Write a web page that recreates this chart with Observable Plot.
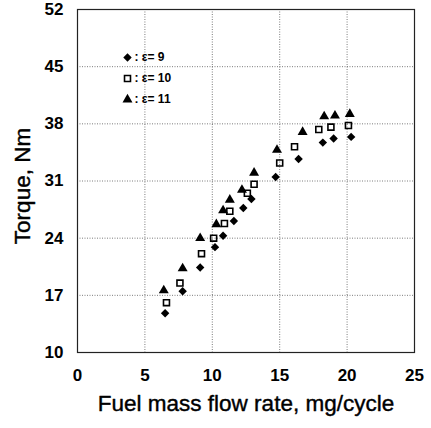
<!DOCTYPE html>
<html>
<head>
<meta charset="utf-8">
<script src="https://cdn.jsdelivr.net/npm/d3@7"></script>
<script src="https://cdn.jsdelivr.net/npm/@observablehq/plot@0.6"></script>
<style>
  html, body { margin: 0; padding: 0; background: #fff; }
  #chart svg { display: block; }
</style>
</head>
<body>
<div id="chart"></div>
<script>
// ε = 9 (filled diamonds)
const fuel9   = [6.5, 7.8, 9.1, 10.2, 10.8, 11.6, 12.3, 12.9, 14.7, 16.4, 18.2, 19.0, 20.3];
const torque9 = [14.8, 17.5, 20.4, 22.9, 24.3, 26.1, 27.7, 28.8, 31.5, 33.7, 35.7, 36.2, 36.4];
// ε = 10 (open squares)
const fuel10   = [6.6, 7.6, 9.2, 10.1, 10.9, 11.3, 12.6, 13.1, 15.0, 16.1, 17.9, 18.8, 20.1];
const torque10 = [16.1, 18.5, 22.1, 24.0, 25.8, 27.3, 29.5, 30.6, 33.2, 35.2, 37.3, 37.6, 37.8];
// ε = 11 (filled triangles)
const fuel11   = [6.4, 7.8, 9.1, 10.3, 10.8, 11.3, 12.2, 13.1, 14.8, 16.7, 18.3, 19.1, 20.2];
const torque11 = [17.6, 20.3, 24.0, 25.7, 27.4, 28.7, 29.9, 32.0, 34.8, 37.0, 38.9, 39.0, 39.2];

const xTicks = [0, 5, 10, 15, 20, 25];
const yTicks = [10, 17, 24, 31, 38, 45, 52];
const legendLabels = [": ε= 9", ": ε= 10", ": ε= 11"];
const xTitle = "Fuel mass flow rate, mg/cycle";
const yTitle = "Torque, Nm";

const rows = (xs, ys) => xs.map((x, i) => ({x, y: ys[i]}));
const s9 = rows(fuel9, torque9);
const s10 = rows(fuel10, torque10);
const s11 = rows(fuel11, torque11);

const font = "'Liberation Sans', Arial, sans-serif";

const legendMarks = [];
const legendSym = [
  {symbol: "diamond2", fill: "black", stroke: "none", r: 3.8},
  {symbol: "square2", fill: "none", stroke: "black", r: 3.8},
  {symbol: "triangle", fill: "black", stroke: "none", r: 3.7}
];
legendLabels.forEach((lab, i) => {
  const dy = 48 + i * 21;
  legendMarks.push(Plot.dot([lab], {frameAnchor: "top-left", dx: 50, dy, symbol: legendSym[i].symbol, r: legendSym[i].r, fill: legendSym[i].fill, stroke: legendSym[i].stroke, strokeWidth: 1.6}));
  legendMarks.push(Plot.text([lab], {frameAnchor: "top-left", dx: 57, dy, text: d => d, textAnchor: "start", lineAnchor: "middle", fontSize: 12, fontWeight: "bold", fill: "black"}));
});

const chart = Plot.plot({
  width: 431,
  height: 428,
  marginLeft: 77,
  marginRight: 17,
  marginTop: 9,
  marginBottom: 76,
  style: {fontFamily: font, background: "white", color: "black"},
  x: {domain: [0, 25], ticks: xTicks},
  y: {domain: [10, 52], ticks: yTicks},
  marks: [
    Plot.gridX(xTicks, {stroke: "#444", strokeOpacity: 0.7, strokeDasharray: "1,1.5", strokeWidth: 1}),
    Plot.gridY(yTicks, {stroke: "#444", strokeOpacity: 0.7, strokeDasharray: "1,1.5", strokeWidth: 1}),
    Plot.axisX(xTicks, {tickSize: 0, tickPadding: 16, fontSize: 17, fontWeight: "bold", label: null}),
    Plot.axisY(yTicks, {tickSize: 0, tickPadding: 14, fontSize: 17, fontWeight: "bold", label: null}),
    Plot.frame({stroke: "#222", strokeWidth: 1.2}),
    Plot.dot(s9, {x: "x", y: "y", symbol: "diamond2", r: 3.8, fill: "black", stroke: "none"}),
    Plot.dot(s10, {x: "x", y: "y", symbol: "square2", r: 3.8, fill: "none", stroke: "black", strokeWidth: 1.6}),
    Plot.dot(s11, {x: "x", y: "y", symbol: "triangle", r: 3.7, fill: "black", stroke: "none"}),
    ...legendMarks,
    Plot.text([xTitle], {frameAnchor: "bottom", dy: 51, lineAnchor: "middle", textAnchor: "middle", text: d => d, fontSize: 22.5, fill: "black", stroke: "black", strokeWidth: 0.4}),
    Plot.text([yTitle], {frameAnchor: "left", dx: -55, dy: 5, rotate: -90, lineAnchor: "middle", textAnchor: "middle", text: d => d, fontSize: 22.5, fill: "black", stroke: "black", strokeWidth: 0.4})
  ]
});
document.getElementById("chart").appendChild(chart);
</script>
</body>
</html>
